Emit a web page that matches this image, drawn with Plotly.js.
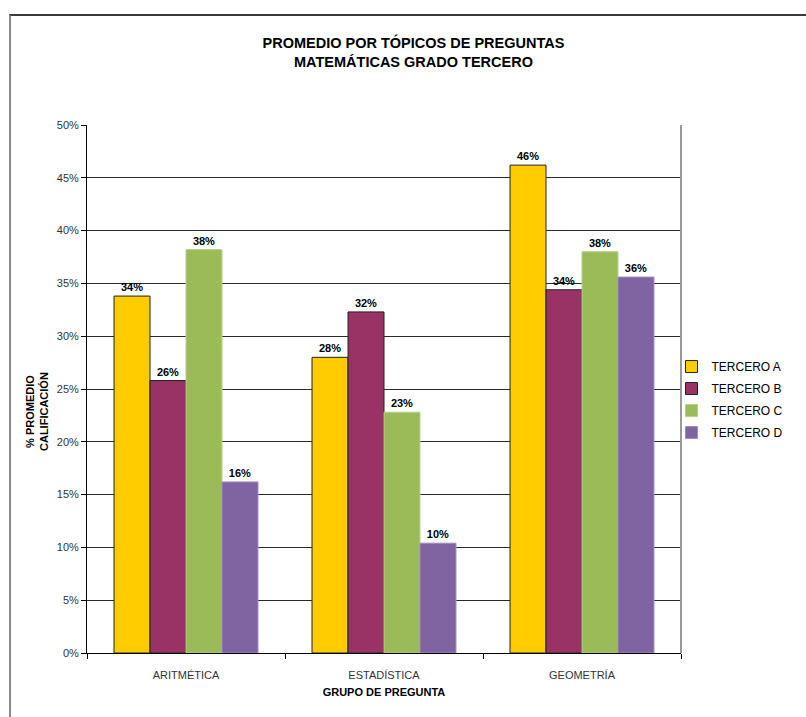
<!DOCTYPE html>
<html>
<head>
<meta charset="utf-8">
<script src="https://cdn.plot.ly/plotly-3.0.1.min.js"></script>
<style>
  html, body { margin: 0; padding: 0; background: #fff; }
  #wrap { position: relative; width: 806px; height: 717px; }
  #chart { position: absolute; left: 0; top: 0; width: 806px; height: 717px; }
  #frame { position: absolute; left: 9px; top: 14px; right: -4px; bottom: -4px;
           border-left: 2px solid #8a8a8a; border-top: 2px solid #3a3a3a; pointer-events: none; }
</style>
</head>
<body>
<div id="wrap">
  <div id="chart"></div>
  <div id="frame"></div>
</div>
<script>
// Question groups and the average score (%) of each third-grade class
const categories = ['ARITMÉTICA', 'ESTADÍSTICA', 'GEOMETRÍA'];
const seriesNames = ['TERCERO A', 'TERCERO B', 'TERCERO C', 'TERCERO D'];
const terceroA = [33.8, 28.0, 46.2];
const terceroB = [25.8, 32.3, 34.4];
const terceroC = [38.2, 22.8, 38.0];
const terceroD = [16.2, 10.4, 35.6];

const seriesValues = [terceroA, terceroB, terceroC, terceroD];
const fills = ['#FFCC00', '#993366', '#9BBB59', '#8064A2'];
const outlines = ['#222222', '#222222', '#B5D08A', '#A08BC0'];

const FONT = '"Liberation Sans Narrow", "Liberation Sans", Arial, sans-serif';

const traces = seriesValues.map((vals, i) => ({
  type: 'bar',
  name: seriesNames[i],
  legendgroup: 'g' + i,
  x: categories,
  y: vals,
  marker: { color: fills[i], line: { color: outlines[i], width: 1 } },
  text: vals.map(v => Math.round(v) + '%'),
  textposition: 'outside',
  textfont: { family: FONT, size: 11, color: '#000', weight: 'bold' },
  cliponaxis: false,
  hoverinfo: 'skip'
}));

const layout = {
  width: 806,
  height: 717,
  margin: { l: 87, r: 125, t: 125, b: 64, autoexpand: false },
  paper_bgcolor: '#fff',
  plot_bgcolor: '#fff',
  font: { family: FONT, size: 11, color: '#222' },
  barmode: 'group',
  bargap: 0.273,
  bargroupgap: 0,
  title: {
    text: 'PROMEDIO POR TÓPICOS DE PREGUNTAS<br>MATEMÁTICAS GRADO TERCERO',
    font: { family: FONT, size: 14.5, color: '#000', weight: 'bold' },
    x: 0.513, xanchor: 'center',
    y: 0.933, yanchor: 'top'
  },
  xaxis: {
    type: 'category',
    showline: true, linecolor: '#000', linewidth: 1,
    ticks: 'outside', tickson: 'boundaries', ticklen: 5, tickcolor: '#000',
    ticklabelstandoff: 12,
    tickfont: { family: FONT, size: 11, color: '#333' },
    showgrid: false,
    title: {
      text: 'GRUPO DE PREGUNTA',
      font: { family: FONT, size: 11, color: '#000', weight: 'bold' },
      standoff: 8
    }
  },
  yaxis: {
    range: [0, 50],
    dtick: 5,
    ticksuffix: '%',
    showline: true, linecolor: '#000', linewidth: 1,
    ticks: 'outside', ticklen: 5, tickcolor: '#000',
    tickfont: { family: FONT, size: 11, color: '#333' },
    showgrid: true, gridcolor: '#2a2a2a', gridwidth: 1,
    zeroline: false
  },
  legend: {
    x: 0.984, xanchor: 'left',
    y: 0.48, yanchor: 'middle',
    font: { family: FONT, size: 12, color: '#000' },
    itemwidth: 30,
    tracegroupgap: 3,
    bgcolor: 'rgba(0,0,0,0)'
  },
  shapes: [
    { type: 'line', xref: 'paper', yref: 'paper', x0: 1, x1: 1, y0: 0, y1: 1,
      line: { color: '#9a9a9a', width: 2 } }
  ],
  annotations: [
    {
      text: '<b>% PROMEDIO<br>CALIFICACIÓN</b>',
      xref: 'paper', yref: 'paper',
      x: (37 - 87) / 594, y: 1 - (412 - 125) / 528,
      xanchor: 'center', yanchor: 'middle',
      textangle: -90, showarrow: false,
      font: { family: FONT, size: 11, color: '#000' }
    }
  ]
};

Plotly.newPlot('chart', traces, layout, { displayModeBar: false, staticPlot: true });
</script>
</body>
</html>
